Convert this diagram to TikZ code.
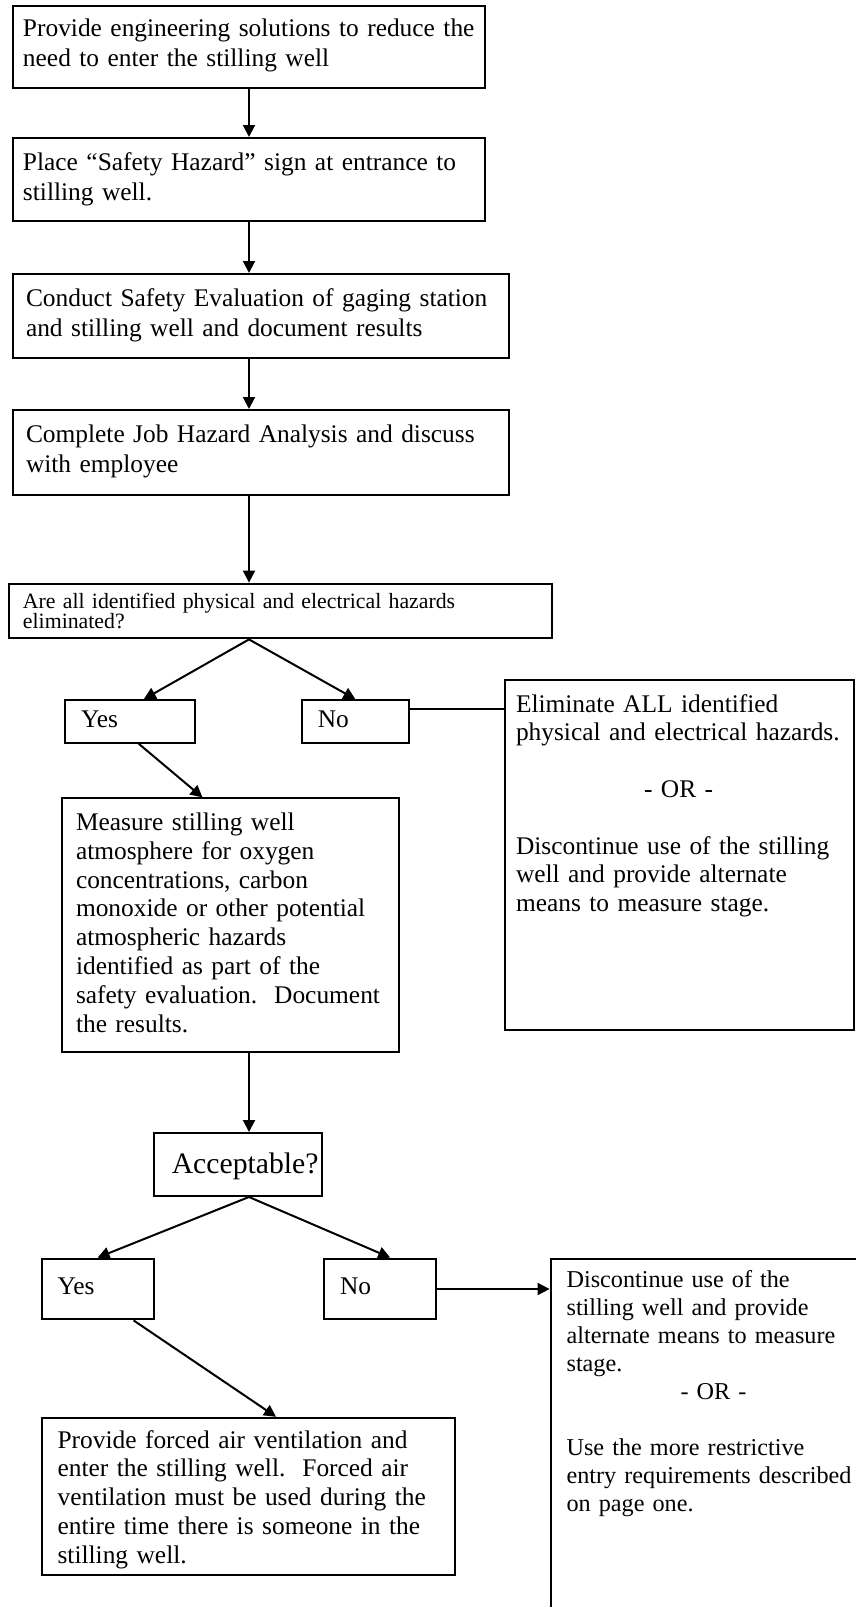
\documentclass[tikz,border=0pt]{standalone}
\usepackage{fontspec}
\setmainfont{Liberation Serif}
\usepackage{tikz}
\usetikzlibrary{arrows.meta, positioning, calc}
\newcommand{\boxfont}{\fontsize{12.7pt}{15pt}\selectfont}
\tikzset{
  action/.style={rectangle, draw=black, line width=1pt, fill=white,
    align=left, inner xsep=6.5pt, inner ysep=0pt, font=\boxfont},
  answer/.style={action, inner xsep=8pt},
  outcome/.style={action, inner xsep=5.5pt},
  arrow/.style={-{Triangle[length=6pt,width=6pt]}, line width=1pt},
  link/.style={line width=1pt}
}
\begin{document}
\begin{tikzpicture}
\useasboundingbox (0,0) rectangle (428pt,-803.5pt);

\node (b1)  [action, anchor=north west, inner xsep=5pt, text width=226pt,
             text height=15pt, text depth=26pt] at (6pt,-2.5pt)
            {Provide engineering solutions to reduce the\\ need to enter the stilling well};
\node (b2)  [action, below=24pt of b1, inner xsep=5pt, text width=226pt,
             text height=16pt, text depth=25.5pt]
            {Place “Safety Hazard” sign at entrance to\\ stilling well.};
\node (b3)  [action, below=25.5pt of b2.south west, anchor=north west,
             text width=235pt, text height=16pt, text depth=26pt]
            {Conduct Safety Evaluation of gaging station\\ and stilling well and document results};
\node (b4)  [action, below=25pt of b3, text width=235pt, text height=16pt, text depth=26.5pt]
            {Complete Job Hazard Analysis and discuss\\ with employee};
\node (b5)  [action, below=43.3pt of b4.south west, anchor=north west, xshift=-2pt,
             inner xsep=7pt, text width=257.5pt, text height=12.2pt, text depth=15.2pt,
             font=\fontsize{10.9pt}{10.1pt}\selectfont]
            {Are all identified physical and electrical hazards\\ eliminated?};
\node (yes1) [answer, below right=29.9pt and 28pt of b5.south west, anchor=north west,
              text width=48.8pt, text height=13.6pt, text depth=7.7pt] {Yes};
\node (no1)  [answer, right=52.6pt of yes1, text width=37.6pt,
              text height=13.6pt, text depth=7.7pt] {No};
\node (r1)   [outcome, above right=10pt and 47pt of no1.north east, anchor=north west,
              text width=163.5pt, text height=16pt, text depth=159pt,
              font=\fontsize{12.7pt}{14.2pt}\selectfont]
             {Eliminate ALL identified\\ physical and electrical hazards.\\[14.2pt]
              \hspace*{64pt}- OR -\\[14.2pt]
              Discontinue use of the stilling\\ well and provide alternate\\ means to measure stage.};
\node (meas) [action, below=26.8pt of yes1.south west, anchor=north west, xshift=-1.5pt,
              inner xsep=7pt, text width=154.5pt, text height=16pt, text depth=111pt,
              font=\fontsize{12.7pt}{14.4pt}\selectfont]
             {Measure stilling well\\ atmosphere for oxygen\\ concentrations, carbon\\
              monoxide or other potential\\ atmospheric hazards\\ identified as part of the\\
              safety evaluation.\ \ Document\\ the results.};
\node (acc)  [action, below right=39.3pt and 45.9pt of meas.south west, anchor=north west,
              inner xsep=9pt, text width=66.2pt, text height=20pt, text depth=11.5pt,
              font=\fontsize{14.85pt}{18pt}\selectfont]
             {\mbox{Acceptable?}};
\node (yes2) [answer, below left=30.3pt and 56.1pt of acc.south west, anchor=north west,
              text width=40pt, text height=17.7pt, text depth=12.7pt] {Yes};
\node (no2)  [answer, right=84.2pt of yes2, text width=40.2pt,
              text height=17.7pt, text depth=12.7pt] {No};
\node (r2)   [outcome, right=56.1pt of no2.north east, anchor=north west, inner xsep=8pt,
              text width=160pt, text height=14.2pt, text depth=185.8pt,
              font=\fontsize{12.1pt}{14pt}\selectfont]
             {Discontinue use of the\\ stilling well and provide\\ alternate means to measure\\ stage.\\
              \hspace*{57pt}- OR -\\[14pt]
              Use the more restrictive\\ entry requirements described\\ on page one.};
\node (fa)   [action, below=48.2pt of yes2.south west, anchor=north west,
              inner xsep=8pt, text width=190.5pt, text height=15.1pt, text depth=63.5pt,
              font=\fontsize{12.7pt}{14.4pt}\selectfont]
             {Provide forced air ventilation and\\ enter the stilling well.\ \ Forced air\\
              ventilation must be used during the\\ entire time there is someone in the\\
              stilling well.};

% main chain
\draw [arrow] (b1.south) -- (b2.north);
\draw [arrow] (b2.south) -- (b2.south |- b3.north);
\draw [arrow] (b3.south -| b1.south) -- (b4.north -| b1.south);
\draw [arrow] (b4.south -| b1.south) -- (b5.north -| b1.south);
% first question
\draw [arrow] (b5.south -| b1.south) -- ($(yes1.north)+(7pt,0)$);
\draw [arrow] (b5.south -| b1.south) -- (no1.north);
\coordinate (noout) at ($(no1.north east)!0.22!(no1.south east)$);
\draw [link]  (noout) -- (noout -| r1.west);
\draw [arrow] ($(yes1.south)+(4.5pt,0)$) -- ($(meas.north)+(-14pt,0)$);
% second question
\draw [arrow] (meas.south -| b1.south) -- (acc.north -| b1.south);
\draw [arrow] (acc.south -| b1.south) -- (yes2.north);
\draw [arrow] (acc.south -| b1.south) -- ($(no2.north)+(5pt,0)$);
\draw [arrow] (no2.east) -- (no2.east -| r2.west);
\draw [arrow] ($(yes2.south)+(18pt,0)$) -- ($(fa.north)+(14pt,0)$);
\end{tikzpicture}
\end{document}
